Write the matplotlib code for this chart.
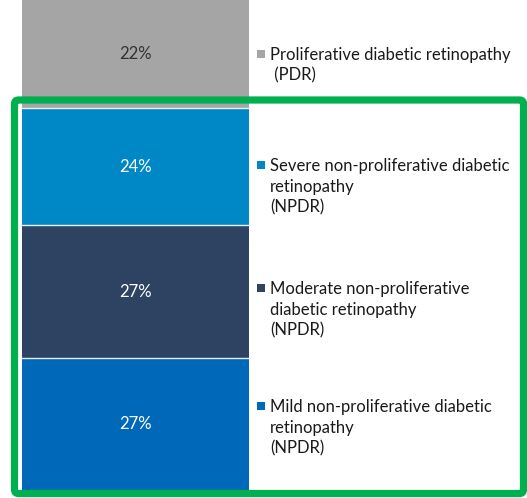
import matplotlib
matplotlib.use("Agg")
import matplotlib.pyplot as plt
from matplotlib.patches import Rectangle, FancyBboxPatch

# Share of eyes by diabetic retinopathy stage (stacked from the bottom)
stages = [
    "Mild non-proliferative diabetic\nretinopathy\n(NPDR)",
    "Moderate non-proliferative\ndiabetic retinopathy\n(NPDR)",
    "Severe non-proliferative diabetic\nretinopathy\n(NPDR)",
    "Proliferative diabetic retinopathy\n (PDR)",
]
shares = [27, 27, 24, 22]
value_labels = ["27%", "27%", "24%", "22%"]
colors = ["#0068B9", "#2E4361", "#0087C6", "#A5A5A5"]
label_colors = ["white", "white", "white", "#333333"]

W, H = 527, 498
fig = plt.figure(figsize=(W / 100, H / 100), dpi=100)
fig.patch.set_facecolor("white")
plt.rcParams["font.family"] = ["Lato", "DejaVu Sans"]

# Bar axes: x in pixels, y in percent; the bar runs from the top edge down to y=490 px
bottom_px = 490
ax = fig.add_axes([0, (H - bottom_px) / H, 1, bottom_px / H])
ax.set_xlim(0, W)
ax.set_ylim(0, sum(shares))
ax.axis("off")

bar_left, bar_right = 22, 249
xc = (bar_left + bar_right) / 2
base = 0
for i, (val, col, lab, lc) in enumerate(zip(shares, colors, value_labels, label_colors)):
    ax.bar(xc, val, width=bar_right - bar_left, bottom=base, color=col, linewidth=0)
    ax.text(xc, base + val / 2, lab, ha="center", va="center", color=lc, fontsize=12)
    base += val
    if i < len(shares) - 1:
        # thin light separator between stacked segments
        ax.plot([bar_left, bar_right], [base, base], color="#E6EEF6", lw=1.0, zorder=3)

# Legend entries on the right, each beside its segment
overlay = fig.add_axes([0, 0, 1, 1])
overlay.set_xlim(0, W)
overlay.set_ylim(H, 0)
overlay.axis("off")

legend_first_line_y = [406, 288, 165, 54]
for name, col, y0 in zip(stages, colors, legend_first_line_y):
    overlay.add_patch(Rectangle((257, y0 - 4), 8, 8, color=col, lw=0))
    overlay.text(270, y0 - 7, name, ha="left", va="top", fontsize=12.0,
                 color="#1A1A1A", linespacing=1.36)

# Green frame around the non-proliferative stages
frame = FancyBboxPatch((14.5, 100), 509, 393.5, boxstyle="round,pad=0,rounding_size=4",
                       fill=False, edgecolor="#00B050", linewidth=5.2, zorder=10)
overlay.add_patch(frame)

fig.savefig("out.png", dpi=100, facecolor="white")
